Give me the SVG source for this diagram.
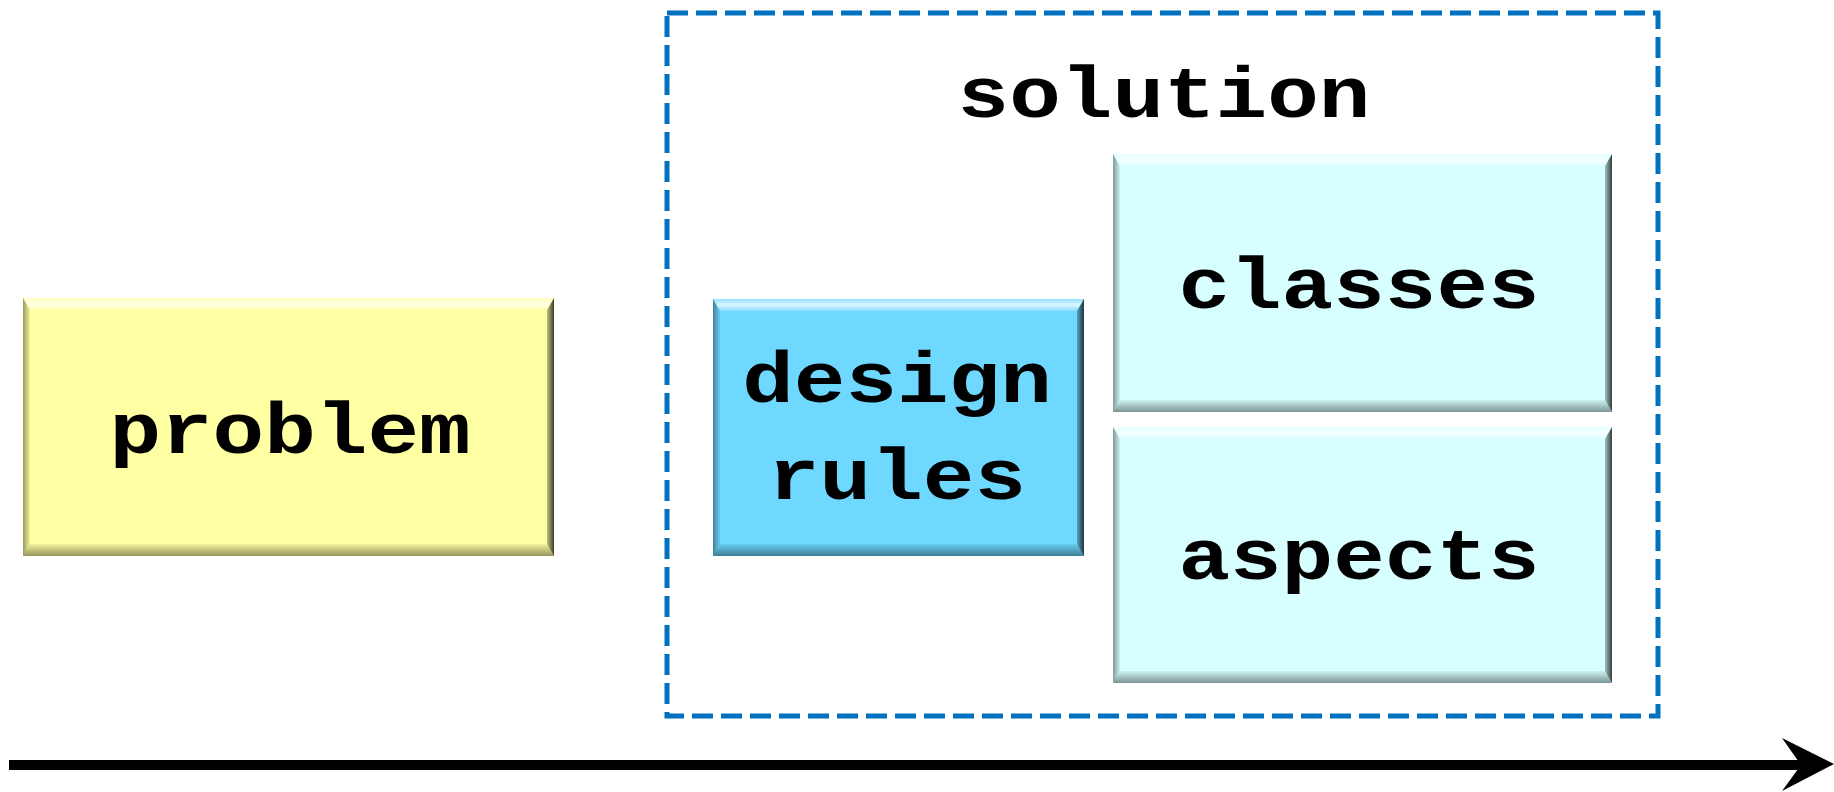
<svg xmlns="http://www.w3.org/2000/svg" width="1834" height="792" viewBox="0 0 1834 792">
  <style>
    .label { font-family: "Liberation Mono", "Courier New", monospace; font-weight: bold; font-size: 86px; fill: #000; text-anchor: middle; }
    .bt { fill: url(#bevelTop); }
    .bb { fill: url(#bevelBottom); }
    .bl { fill: url(#bevelLeft); }
    .br { fill: url(#bevelRight); }
    .frame { fill: none; stroke: #0070C0; stroke-width: 5; stroke-dasharray: 21 8; }
  </style>
  <defs>
    <linearGradient id="bevelTop" x1="0" y1="0" x2="0" y2="1">
      <stop offset="0" stop-color="#fff" stop-opacity="0.25"/>
      <stop offset="0.5" stop-color="#fff" stop-opacity="0.75"/>
      <stop offset="1" stop-color="#fff" stop-opacity="0.15"/>
    </linearGradient>
    <linearGradient id="bevelBottom" x1="0" y1="0" x2="0" y2="1">
      <stop offset="0" stop-color="#000" stop-opacity="0.05"/>
      <stop offset="1" stop-color="#000" stop-opacity="0.42"/>
    </linearGradient>
    <linearGradient id="bevelLeft" x1="0" y1="0" x2="1" y2="0">
      <stop offset="0" stop-color="#000" stop-opacity="0.4"/>
      <stop offset="1" stop-color="#000" stop-opacity="0.05"/>
    </linearGradient>
    <linearGradient id="bevelRight" x1="0" y1="0" x2="1" y2="0">
      <stop offset="0" stop-color="#000" stop-opacity="0.25"/>
      <stop offset="1" stop-color="#000" stop-opacity="0.75"/>
    </linearGradient>
  </defs>

  <rect width="1834" height="792" fill="#fff"/>

  <!-- solution frame -->
  <g id="solution">
    <rect class="frame" x="667" y="13" width="991" height="703"/>
    <text class="label" transform="translate(1164,117) scale(1,0.85)" font-size="88">solution</text>
  </g>

  <!-- problem -->
  <g id="problem" transform="translate(23,298)">
    <rect width="531" height="258" fill="#FFFFA3"/>
    <polygon class="bt" points="0,0 531,0 524,12 7,12"/>
    <polygon class="bb" points="7,246 524,246 531,258 0,258"/>
    <polygon class="bl" points="0,0 7,12 7,246 0,258"/>
    <polygon class="br" points="531,0 531,258 524,246 524,12"/>
    <text class="label" transform="translate(267,155) scale(1,0.85)">problem</text>
  </g>

  <!-- design rules -->
  <g id="design-rules" transform="translate(713,299)">
    <rect width="371" height="257" fill="#6ED8FF"/>
    <polygon class="bt" points="0,0 371,0 364,12 7,12"/>
    <polygon class="bb" points="7,245 364,245 371,257 0,257"/>
    <polygon class="bl" points="0,0 7,12 7,245 0,257"/>
    <polygon class="br" points="371,0 371,257 364,245 364,12"/>
    <text class="label" transform="translate(184,103) scale(1,0.85)">design</text>
    <text class="label" transform="translate(184,200) scale(1,0.85)">rules</text>
  </g>

  <!-- classes -->
  <g id="classes" transform="translate(1113,154)">
    <rect width="499" height="258" fill="#D7FFFF"/>
    <polygon class="bt" points="0,0 499,0 492,12 7,12"/>
    <polygon class="bb" points="7,246 492,246 499,258 0,258"/>
    <polygon class="bl" points="0,0 7,12 7,246 0,258"/>
    <polygon class="br" points="499,0 499,258 492,246 492,12"/>
    <text class="label" transform="translate(246,154) scale(1,0.85)">classes</text>
  </g>

  <!-- aspects -->
  <g id="aspects" transform="translate(1113,427)">
    <rect width="499" height="256" fill="#D7FFFF"/>
    <polygon class="bt" points="0,0 499,0 492,12 7,12"/>
    <polygon class="bb" points="7,244 492,244 499,256 0,256"/>
    <polygon class="bl" points="0,0 7,12 7,244 0,256"/>
    <polygon class="br" points="499,0 499,256 492,244 492,12"/>
    <text class="label" transform="translate(246,152) scale(1,0.85)">aspects</text>
  </g>

  <!-- timeline arrow -->
  <g id="connectors">
    <line x1="9" y1="765" x2="1802" y2="765" stroke="#000" stroke-width="10"/>
    <polygon points="1782,738 1834,764 1782,791 1801,765" fill="#000"/>
  </g>
</svg>
